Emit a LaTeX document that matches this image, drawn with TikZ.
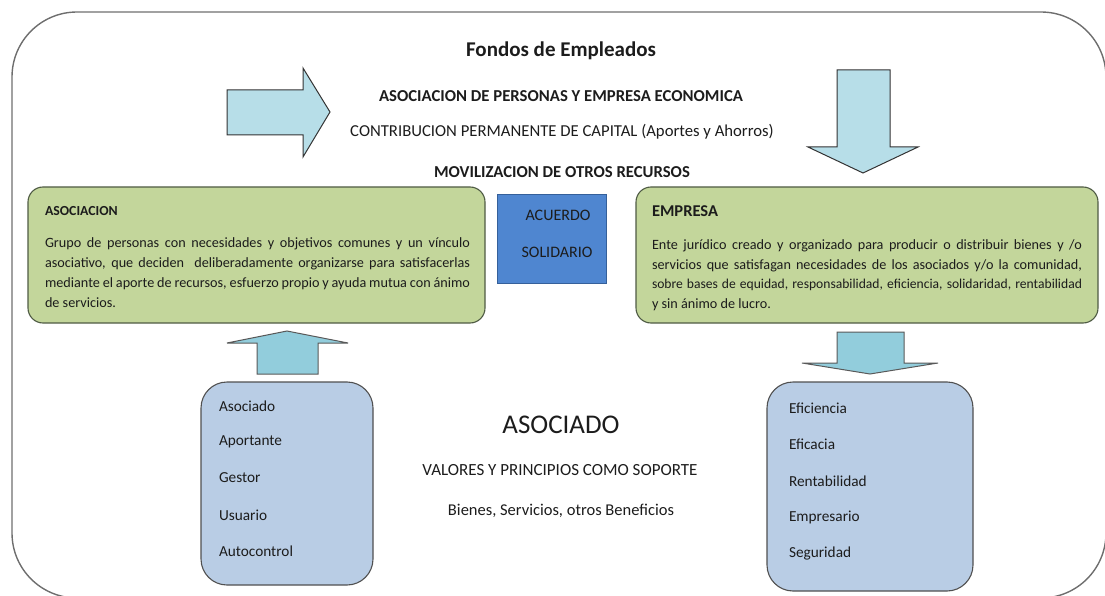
\documentclass[tikz,border=0pt]{standalone}
\usepackage{fontspec}
\setmainfont{Carlito}
\definecolor{greenfill}{HTML}{C3D69B}
\definecolor{greenline}{HTML}{4F5B44}
\definecolor{bluefill}{HTML}{B9CDE5}
\definecolor{boxline}{HTML}{505050}
\definecolor{arrowtop}{HTML}{B7DEE8}
\definecolor{arrowbot}{HTML}{92CDDC}
\definecolor{acuerdo}{HTML}{4F86D0}
\definecolor{acuerdoline}{HTML}{35609A}
\definecolor{outerline}{HTML}{6E6E6E}
\definecolor{ink}{HTML}{1C1C1C}
\newcommand{\jl}[2]{\hbox to #1{\spaceskip=0.226em plus 1em minus 0.05em\relax #2}}
\begin{document}
\begin{tikzpicture}[x=1pt,y=-1pt,
  every node/.style={text=ink, inner sep=0pt, outer sep=0pt},
  outerbox/.style={draw=outerline, line width=1.4pt, rounded corners=65pt},
  greenbox/.style={draw=greenline, fill=greenfill, line width=1.1pt, rounded corners=15pt},
  listbox/.style={draw=boxline, fill=bluefill, line width=1.1pt, rounded corners=26pt},
  acuerdobox/.style={draw=acuerdoline, fill=acuerdo, line width=1pt},
  toparrow/.style={draw=black!80, fill=arrowtop, line width=1pt, line join=miter},
  botarrow/.style={draw=black!65, fill=arrowbot, line width=1pt, line join=miter},
  title/.style={font=\fontsize{21}{24}\selectfont\bfseries},
  headtxt/.style={font=\fontsize{16.7}{19}\selectfont\bfseries},
  plaintxt/.style={font=\fontsize{16.7}{19}\selectfont},
  acutxt/.style={font=\fontsize{16}{18}\selectfont},
  para/.style={font=\fontsize{14.2}{19.8}\selectfont, align=left, anchor=north west},
  itemtxt/.style={font=\fontsize{15.3}{17}\selectfont, anchor=west}
]
\useasboundingbox (0,0) rectangle (1105,596);
\clip (0,0) rectangle (1105,596);

% outer frame
\node[outerbox, minimum width=1094pt, minimum height=586pt, anchor=north west] (frame) at (12,12) {};

% header texts
\node[title] (ttl) at (561,51) {Fondos de Empleados};
\node[headtxt] (h1) at (561,96) {ASOCIACION DE PERSONAS Y EMPRESA ECONOMICA};
\node[plaintxt] (h2) at (562,132) {CONTRIBUCION PERMANENTE DE CAPITAL (Aportes y Ahorros)};
\node[headtxt] (h3) at (562,172) {MOVILIZACION DE OTROS RECURSOS};

% top arrows
\draw[toparrow] (227,90) -- (303,90) -- (303,68) -- (330,112) -- (303,157) -- (303,135) -- (227,135) -- cycle;
\draw[toparrow] (837,70) -- (890,70) -- (890,147) -- (918,147) -- (863,173) -- (808,147) -- (837,147) -- cycle;

% green boxes
\node[greenbox, minimum width=457pt, minimum height=136pt] (asoc) at (256.5,255) {};
\node[greenbox, minimum width=462pt, minimum height=136pt] (emp) at (867,255) {};

\node[font=\fontsize{13.8}{15}\selectfont\bfseries, anchor=west] (asoct) at (45,211) {ASOCIACION};
\node[para] (asocp) at (45,238) {\jl{425pt}{Grupo de personas con necesidades y objetivos comunes y un vínculo}\\
\jl{425pt}{asociativo, que deciden\ \ deliberadamente organizarse para satisfacerlas}\\
\jl{425pt}{mediante el aporte de recursos, esfuerzo propio y ayuda mutua con ánimo}\\
de servicios.};

\node[font=\fontsize{16.5}{18}\selectfont\bfseries, anchor=west] (empt) at (652,211) {EMPRESA};
\node[para] (empp) at (652,239.5) {\jl{430pt}{Ente jurídico creado y organizado para producir o distribuir bienes y /o}\\
\jl{430pt}{servicios que satisfagan necesidades de los asociados y/o la comunidad,}\\
\jl{430pt}{\fontsize{13.6}{19.8}\selectfont sobre bases de equidad, responsabilidad, eficiencia, solidaridad, rentabilidad}\\
y sin ánimo de lucro.};

% acuerdo
\node[acuerdobox, minimum width=109pt, minimum height=88pt] (acu) at (551.5,239) {};
\node[acutxt] (acu1) at (558,215) {ACUERDO};
\node[acutxt] (acu2) at (557,252) {SOLIDARIO};

% bottom arrows
\draw[botarrow] (257,374) -- (257,343) -- (227,343) -- (287,331) -- (348,343) -- (318,343) -- (318,374) -- cycle;
\draw[botarrow] (837,332) -- (904,332) -- (904,363) -- (938,363) -- (870,374) -- (802,363) -- (837,363) -- cycle;

% list boxes
\node[listbox, minimum width=172pt, minimum height=203pt] (left) at (287,483.5) {};
\node[listbox, minimum width=206pt, minimum height=209pt] (right) at (870,486.5) {};

\node[itemtxt] (l1) at (219,406) {Asociado};
\node[itemtxt] (l2) at (219,442) {Aportante};
\node[itemtxt] (l3) at (219,478) {Gestor};
\node[itemtxt] (l4) at (219,515) {Usuario};
\node[itemtxt] (l5) at (219,551) {Autocontrol};

\node[itemtxt] (r1) at (789,408) {Eficiencia};
\node[itemtxt] (r2) at (789,444) {Eficacia};
\node[itemtxt] (r3) at (789,481) {Rentabilidad};
\node[itemtxt] (r4) at (789,517) {Empresario};
\node[itemtxt] (r5) at (789,553) {Seguridad};

% center texts
\node[font=\fontsize{27}{30}\selectfont] (aso) at (561,425) {ASOCIADO};
\node[font=\fontsize{17}{19}\selectfont] (val) at (560,470) {VALORES Y PRINCIPIOS COMO SOPORTE};
\node[font=\fontsize{16.5}{19}\selectfont] (bie) at (561,511) {Bienes, Servicios, otros Beneficios};
\end{tikzpicture}
\end{document}
